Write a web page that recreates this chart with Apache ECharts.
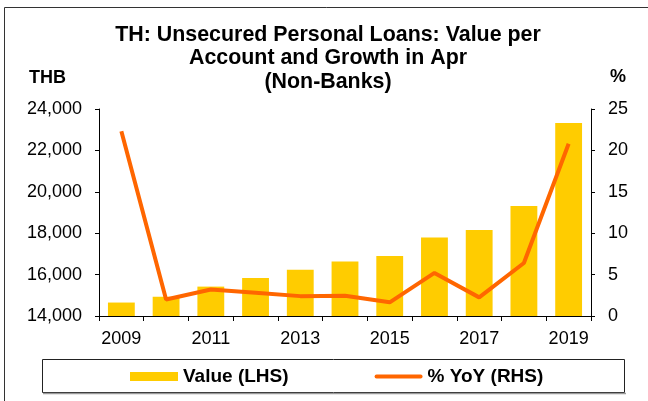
<!DOCTYPE html>
<html>
<head>
<meta charset="utf-8">
<script src="https://cdn.jsdelivr.net/npm/echarts@6/dist/echarts.min.js"></script>
<style>
  html, body { margin: 0; padding: 0; background: #fff; }
  #chart { width: 648px; height: 401px; }
</style>
</head>
<body>
<div id="chart"></div>
<script>
// data
const years = ['2009', '2010', '2011', '2012', '2013', '2014', '2015', '2016', '2017', '2018', '2019']
const valueLhs = [14650, 14930, 15420, 15840, 16230, 16630, 16900, 17790, 18160, 19320, 23320]
const yoyRhs = [22.3, 2.0, 3.2, 2.8, 2.4, 2.45, 1.65, 5.2, 2.25, 6.4, 20.8]

const FONT = '"Liberation Sans", Arial, sans-serif'

let chart = echarts.init(document.getElementById('chart'), null, {renderer: 'canvas'})

chart.setOption({
    animation: false,
    backgroundColor: '#fff',
    title: {
        text: 'TH: Unsecured Personal Loans: Value per\nAccount and Growth in Apr\n(Non-Banks)',
        left: 328,
        top: 23,
        textAlign: 'center',
        padding: 0,
        textStyle: {fontFamily: FONT, fontSize: 21.4, fontWeight: 'bold', color: '#000', lineHeight: 23.5}
    },
    grid: {left: 99, right: 57, top: 109, bottom: 85, containLabel: false},
    legend: {
        left: 130,
        top: 367,
        padding: 0,
        itemWidth: 48,
        itemHeight: 9,
        itemGap: 86,
        textStyle: {fontFamily: FONT, fontSize: 19, fontWeight: 'bold', color: '#000'},
        data: [
            {name: 'Value (LHS)', icon: 'rect'},
            {name: '% YoY (RHS)', icon: 'path://M2,0 L48,0 A2,2 0 0 1 48,4 L2,4 A2,2 0 0 1 2,0 Z'}
        ]
    },
    xAxis: {
        type: 'category',
        data: years,
        axisLine: {lineStyle: {color: '#000', width: 1}},
        axisTick: {show: true, length: 5, alignWithLabel: false, interval: 0, lineStyle: {color: '#000'}},
        axisLabel: {interval: 1, margin: 14, fontFamily: FONT, fontSize: 18, color: '#000'}
    },
    yAxis: [
        {
            type: 'value',
            min: 14000,
            max: 24000,
            interval: 2000,
            splitLine: {show: false},
            axisLine: {show: true, lineStyle: {color: '#000'}},
            axisTick: {show: true, length: 4, lineStyle: {color: '#000'}},
            axisLabel: {
                margin: 17, fontFamily: FONT, fontSize: 18, color: '#000',
                formatter: v => v.toLocaleString('en-US')
            }
        },
        {
            type: 'value',
            min: 0,
            max: 25,
            interval: 5,
            splitLine: {show: false},
            axisLine: {show: true, lineStyle: {color: '#000'}},
            axisTick: {show: true, length: 4, lineStyle: {color: '#000'}},
            axisLabel: {margin: 17, fontFamily: FONT, fontSize: 18, color: '#000'}
        }
    ],
    graphic: [
        {
            type: 'rect', silent: true, z: -1,
            shape: {x: 4.5, y: 7.5, width: 700, height: 420},
            style: {fill: null, stroke: '#333', lineWidth: 1}
        },
        {
            type: 'rect', silent: true,
            shape: {x: 42.5, y: 359.5, width: 582, height: 33},
            style: {fill: null, stroke: '#222', lineWidth: 1}
        },
        {
            type: 'line', silent: true,
            shape: {x1: 43, y1: 393.5, x2: 626, y2: 393.5},
            style: {stroke: '#999', lineWidth: 1.5}
        },
        {
            type: 'text', silent: true, left: 29, top: 69,
            style: {text: 'THB', fontFamily: FONT, fontSize: 18, fontWeight: 'bold', fill: '#000'}
        },
        {
            type: 'text', silent: true, left: 610, top: 68,
            style: {text: '%', fontFamily: FONT, fontSize: 18, fontWeight: 'bold', fill: '#000'}
        }
    ],
    series: [
        {
            name: 'Value (LHS)',
            type: 'bar',
            yAxisIndex: 0,
            data: valueLhs,
            barWidth: '60%',
            itemStyle: {color: '#FFCC00'}
        },
        {
            name: '% YoY (RHS)',
            type: 'line',
            yAxisIndex: 1,
            data: yoyRhs,
            symbol: 'none',
            lineStyle: {color: '#FF6600', width: 4},
            itemStyle: {color: '#FF6600'}
        }
    ]
})
</script>
</body>
</html>
